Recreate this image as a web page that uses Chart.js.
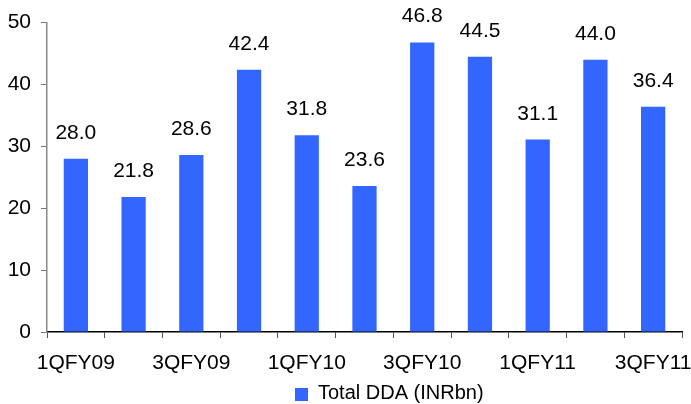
<!DOCTYPE html>
<html>
<head>
<meta charset="utf-8">
<script src="https://cdn.jsdelivr.net/npm/chart.js@4/dist/chart.umd.min.js"></script>
<style>
  html, body { margin: 0; padding: 0; background: #fff; }
  #wrap { width: 691px; height: 404px; position: relative; }
</style>
</head>
<body>
<div id="wrap"><canvas id="c"></canvas></div>
<script>
// Quarterly total DDA, INR billion
const quarters = ['1QFY09', '2QFY09', '3QFY09', '4QFY09', '1QFY10', '2QFY10',
                  '3QFY10', '4QFY10', '1QFY11', '2QFY11', '3QFY11'];
const totalDDA = [28.0, 21.8, 28.6, 42.4, 31.8, 23.6, 46.8, 44.5, 31.1, 44.0, 36.4];
const seriesName = 'Total DDA (INRbn)';
const yTicks = [0, 10, 20, 30, 40, 50];

const BAR_COLOR = '#3366FF';
const FONT = 'Liberation Sans, Arial, Helvetica, sans-serif';

// Value labels above each bar
const valueLabels = {
  id: 'valueLabels',
  afterDatasetsDraw(chart) {
    const ctx = chart.ctx;
    const meta = chart.getDatasetMeta(0);
    ctx.save();
    ctx.font = '21px ' + FONT;
    ctx.fillStyle = '#000';
    ctx.textAlign = 'center';
    ctx.textBaseline = 'alphabetic';
    meta.data.forEach((bar, i) => {
      ctx.fillText(totalDDA[i].toFixed(1), bar.x, bar.y - 20);
    });
    ctx.restore();
  }
};

// Legend swatch and label below the axis
const bottomLegend = {
  id: 'bottomLegend',
  afterDraw(chart) {
    const ctx = chart.ctx;
    const ds = chart.data.datasets[0];
    ctx.save();
    ctx.fillStyle = ds.backgroundColor;
    ctx.fillRect(295, 388, 13, 13);
    ctx.font = '20px ' + FONT;
    ctx.fillStyle = '#000';
    ctx.textAlign = 'left';
    ctx.textBaseline = 'alphabetic';
    ctx.fillText(ds.label, 318, 399);
    ctx.restore();
  }
};

new Chart(document.getElementById('c'), {
  type: 'bar',
  data: {
    labels: quarters,
    datasets: [{
      label: seriesName,
      data: totalDDA,
      backgroundColor: BAR_COLOR,
      borderWidth: 0,
      categoryPercentage: 1.0,
      barPercentage: 0.42
    }]
  },
  options: {
    responsive: true,
    maintainAspectRatio: false,
    animation: false,
    devicePixelRatio: 1,
    layout: { padding: { left: 0, right: 9, top: 19, bottom: 0 } },
    plugins: {
      legend: { display: false },
      tooltip: { enabled: false }
    },
    scales: {
      x: {
        grid: {
          offset: true,
          drawOnChartArea: false,
          drawTicks: true,
          tickLength: 6,
          color: '#555',
          tickColor: '#555'
        },
        border: { color: '#000', width: 1.5 },
        ticks: {
          autoSkip: false,
          maxRotation: 0,
          padding: 13,
          color: '#000',
          font: { family: FONT, size: 21 },
          callback: (v, i) => (i % 2 === 0 ? quarters[i] : '')
        },
        afterFit(scale) {
          scale.height = 72;
          scale.paddingLeft = 0;
          scale.paddingRight = 0;
        }
      },
      y: {
        min: 0,
        max: 50,
        afterBuildTicks(scale) { scale.ticks = yTicks.map(v => ({ value: v })); },
        grid: {
          drawOnChartArea: false,
          drawTicks: true,
          tickLength: 6,
          color: '#777',
          tickColor: '#777'
        },
        border: { color: '#888', width: 1.5 },
        ticks: {
          padding: 10,
          color: '#000',
          font: { family: FONT, size: 21 }
        },
        afterFit(scale) { scale.width = 47; }
      }
    }
  },
  plugins: [valueLabels, bottomLegend]
});
</script>
</body>
</html>
